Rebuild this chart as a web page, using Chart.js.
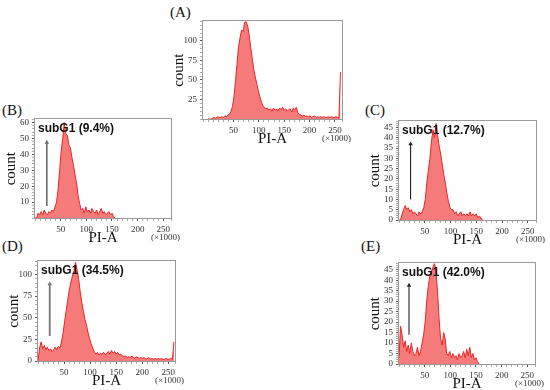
<!DOCTYPE html>
<html><head><meta charset="utf-8">
<script src="https://cdn.jsdelivr.net/npm/chart.js@4.4.1/dist/chart.umd.min.js"></script>
<style>
html,body{margin:0;padding:0;background:#fff;width:550px;height:390px;overflow:hidden;position:relative}
canvas{position:absolute}
.lbl{position:absolute;font-family:'Liberation Serif',serif;font-size:15px;line-height:15px;color:#111;white-space:nowrap}
</style></head><body>
<div class="lbl" style="left:170px;top:5px">(A)</div>
<div class="lbl" style="left:2px;top:103px">(B)</div>
<div class="lbl" style="left:365px;top:103px">(C)</div>
<div class="lbl" style="left:2px;top:239px">(D)</div>
<div class="lbl" style="left:361px;top:239px">(E)</div>
<script>
// ---- data (PI-A in x1000, bins of width 3 starting at 0) ----
const binWidth = 3;
const xTickLabels = [50, 100, 150, 200, 250];
const yLabelsA = [25, 50, 75, 100];
const yLabelsB = [10, 20, 30, 40, 50, 60];
const yLabelsC = [0, 5, 10, 15, 20, 25, 30, 35, 40, 45];
const yLabelsD = [0, 25, 50, 75, 100];
const yLabelsE = [0, 5, 10, 15, 20, 25, 30, 35, 40, 45];

const countsA = [0,0,0,1,2,1,3,2,2,3, 2,4,3,5,6,9,16,28,48,70, 92,104,114,112,124,125,119,108,92,78,
  64,54,45,36,29,22,17,15,13,14, 11,13,10,14,11,13,10,14,12,15, 11,13,10,12,13,9,14,12,15,8,
  6,5,4,5,3,4,3,4,2,3, 4,2,3,2,3,2,3,2,2,3, 2,3,2,2,3,2,2,60];
const countsB = [0,0,3,2,4,2,5,3,2,4, 3,5,4,7,10,18,30,42,50,60, 53,52,46,44,38,33,27,22,14,9,
  5,6,3,7,4,5,3,6,4,3, 5,2,4,6,3,4,2,3,4,2, 3,1,0];
const countsC = [0,0,3,5,7,5,6,4,5,3, 4,3,2,4,3,4,6,10,18,24, 30,38,44,40,47,41,36,32,27,22,
  18,13,9,6,5,5,3,4,2,3, 4,2,3,2,3,2,4,2,3,2, 3,1,2,1,0];
const countsD = [0,15,22,14,18,13,16,12,14,11, 13,16,13,17,15,22,32,45,58,70, 82,90,98,104,114,105,95,80,68,58,
  48,42,33,26,20,15,11,8,10,7, 9,8,10,7,9,11,8,12,9,11, 8,10,7,8,6,5,6,4,5,4,
  6,4,3,5,4,3,4,3,4,2, 3,4,2,3,2,3,2,3,2,3, 2,2,3,2,2,3,2,22];
const countsE = [3,18,14,8,11,6,9,5,10,6, 4,5,8,4,6,10,14,20,30,37, 42,44,46,48,44,35,22,12,9,15,
  12,5,4,6,3,5,3,4,2,5, 3,4,6,3,7,4,8,3,5,2, 3,1,0];

// subG1 labels and arrows (x, from count, to count)
const subLabels = {B: 'subG1 (9.4%)', C: 'subG1 (12.7%)', D: 'subG1 (34.5%)', E: 'subG1 (42.0%)'};
const arrowB = [23, 7.5, 47.5];
const arrowC = [22.5, 10, 37];
const arrowD = [22.5, 29, 89];
const arrowE = [19.5, 14, 37.5];

// ---- layout / style ----
const SERIF = "'Liberation Serif', 'Times New Roman', serif";
const SANS = "'Liberation Sans', Arial, sans-serif";
const panels = [
  {counts: countsA, yMax: 125, yStep: 5, yLabels: yLabelsA, xMin: -10, xMax: 264, rect: [203, 21, 342, 119], sub: null, arrow: null},
  {counts: countsB, yMax: 62, yStep: 2, yLabels: yLabelsB, xMin: 0, xMax: 265, rect: [35, 119, 171, 218], sub: subLabels.B, arrow: arrowB, arrowColor: '#6a6a6a', arrowW: 1.6},
  {counts: countsC, yMax: 48, yStep: 1, yLabels: yLabelsC, xMin: 0, xMax: 266, rect: [399, 121, 536, 220], sub: subLabels.C, arrow: arrowC, arrowColor: '#222', arrowW: 1.1},
  {counts: countsD, yMax: 115, yStep: 5, yLabels: yLabelsD, xMin: 0, xMax: 263, rect: [38, 261, 175, 361], sub: subLabels.D, arrow: arrowD, arrowColor: '#777', arrowW: 1.8},
  {counts: countsE, yMax: 48, yStep: 1, yLabels: yLabelsE, xMin: 0, xMax: 265, rect: [399, 263, 535, 364], sub: subLabels.E, arrow: arrowE, arrowColor: '#222', arrowW: 1.1}
];

const framePlugin = {
  id: 'frame',
  afterDatasetsDraw(chart, args, opts) {
    const {ctx, chartArea: a} = chart;
    ctx.save();
    ctx.strokeStyle = '#9a9a9a';
    ctx.lineWidth = 1;
    ctx.strokeRect(Math.round(a.left) - 0.5, Math.round(a.top) - 0.5, Math.round(a.right - a.left) + 1, Math.round(a.bottom - a.top) + 1);
    if (opts.sub) {
      ctx.fillStyle = '#111';
      ctx.font = 'bold 12px ' + SANS;
      ctx.textAlign = 'left';
      ctx.textBaseline = 'middle';
      ctx.fillText(opts.sub, a.left + 3, a.top + 9);
    }
    ctx.fillStyle = '#333';
    ctx.font = '9px ' + SERIF;
    ctx.textAlign = 'right';
    ctx.textBaseline = 'middle';
    ctx.fillText('(\u00d71000)', a.right + 9, a.bottom + 20);
    ctx.restore();
  }
};

function makePanel(p) {
  const [L, T, R, B] = p.rect;
  const yW = 33, xH = 29, padT = 8, padR = 22;
  const w = yW + (R - L) + padR, h = padT + (B - T) + xH;
  const c = document.createElement('canvas');
  c.width = w; c.height = h;
  c.style.left = (L - yW) + 'px'; c.style.top = (T - padT) + 'px';
  c.style.width = w + 'px'; c.style.height = h + 'px';
  document.body.appendChild(c);

  const hist = p.counts.map((v, i) => ({x: i * binWidth, y: v}));
  const datasets = [{
    data: hist, fill: 'origin', backgroundColor: 'rgba(244,112,112,0.92)', borderColor: 'rgb(236,36,36)',
    borderWidth: 1, pointRadius: 0, tension: 0, order: 2
  }];
  if (p.arrow) {
    datasets.push({
      data: [{x: p.arrow[0], y: p.arrow[1]}, {x: p.arrow[0], y: p.arrow[2]}],
      borderColor: p.arrowColor, backgroundColor: p.arrowColor, borderWidth: p.arrowW,
      pointRadius: [0, 2.6], pointStyle: 'triangle', pointBorderWidth: 0, fill: false, order: 1
    });
  }
  const tickCol = (labels) => (ctx) => (ctx.tick && labels.includes(ctx.tick.value)) ? '#555' : '#aaa';
  new Chart(c, {
    type: 'line',
    data: {datasets},
    options: {
      responsive: false, animation: false, devicePixelRatio: 1,
      layout: {padding: {top: padT, right: padR, left: 0, bottom: 0}},
      plugins: {legend: {display: false}, tooltip: {enabled: false}, frame: {sub: p.sub}},
      scales: {
        x: {
          type: 'linear', min: p.xMin, max: p.xMax,
          afterFit: (s) => { s.height = xH; },
          border: {display: false},
          grid: {drawOnChartArea: false, tickLength: 3, tickColor: tickCol(xTickLabels)},
          ticks: {stepSize: 10, autoSkip: false, maxRotation: 0, padding: 3, color: '#333',
            font: {family: SERIF, size: 9}, callback: (v) => xTickLabels.includes(v) ? String(v) : ''},
          title: {display: true, text: 'PI-A', color: '#111', font: {family: SERIF, size: 15}, padding: 0}
        },
        y: {
          type: 'linear', min: 0, max: p.yMax,
          afterFit: (s) => { s.width = yW; },
          border: {display: false},
          grid: {drawOnChartArea: false, tickLength: 3, tickColor: tickCol(p.yLabels)},
          ticks: {stepSize: p.yStep, autoSkip: false, padding: 3, color: '#333',
            font: {family: SERIF, size: 9}, callback: (v) => p.yLabels.includes(v) ? String(v) : ''},
          title: {display: true, text: 'count', color: '#111', font: {family: SERIF, size: 15}, padding: 0}
        }
      }
    },
    plugins: [framePlugin]
  });
}
panels.forEach(makePanel);
</script>
</body></html>
